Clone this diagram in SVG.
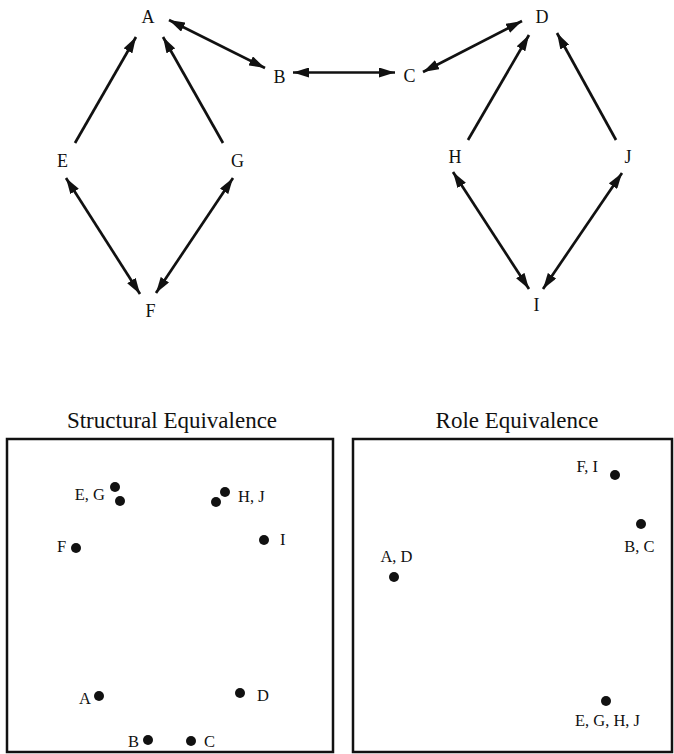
<svg xmlns="http://www.w3.org/2000/svg" width="674" height="754" viewBox="0 0 674 754">
<style>
.lbl{font-family:"Liberation Serif","Times New Roman",serif;font-size:18px;fill:#111;text-anchor:middle}
.dl{font-family:"Liberation Serif","Times New Roman",serif;font-size:16.5px;fill:#111}
.ttl{font-family:"Liberation Serif","Times New Roman",serif;font-size:23px;fill:#111;text-anchor:middle}
.e{stroke:#111;stroke-width:2.7;fill:none}
.box{stroke:#111;stroke-width:2.5;fill:none}
.dot{fill:#111}
</style>
<defs>
<marker id="ah" viewBox="0 0 16 10" refX="16" refY="5" markerWidth="16" markerHeight="10" markerUnits="userSpaceOnUse" orient="auto-start-reverse">
<path d="M0,0 L16,5 L0,10 z" fill="#111"/>
</marker>
</defs>
<g id="connectors">
<line class="e" x1="169" y1="20" x2="265" y2="68" marker-start="url(#ah)" marker-end="url(#ah)"/>
<line class="e" x1="293" y1="72.5" x2="395" y2="72.5" marker-start="url(#ah)" marker-end="url(#ah)"/>
<line class="e" x1="423" y1="72" x2="522" y2="21" marker-start="url(#ah)" marker-end="url(#ah)"/>
<line class="e" x1="75" y1="143" x2="136" y2="37" marker-end="url(#ah)"/>
<line class="e" x1="223" y1="143" x2="163" y2="37" marker-end="url(#ah)"/>
<line class="e" x1="468" y1="140" x2="529" y2="35" marker-end="url(#ah)"/>
<line class="e" x1="616" y1="140" x2="557" y2="33" marker-end="url(#ah)"/>
<line class="e" x1="66" y1="178" x2="140" y2="294" marker-start="url(#ah)" marker-end="url(#ah)"/>
<line class="e" x1="233" y1="178" x2="156" y2="293" marker-start="url(#ah)" marker-end="url(#ah)"/>
<line class="e" x1="453" y1="172" x2="529" y2="289" marker-start="url(#ah)" marker-end="url(#ah)"/>
<line class="e" x1="622" y1="173" x2="543" y2="289" marker-start="url(#ah)" marker-end="url(#ah)"/>
</g>
<g id="node-A"><text class="lbl" x="148" y="23">A</text></g>
<g id="node-B"><text class="lbl" x="279.5" y="83">B</text></g>
<g id="node-C"><text class="lbl" x="409.5" y="82">C</text></g>
<g id="node-D"><text class="lbl" x="542" y="23">D</text></g>
<g id="node-E"><text class="lbl" x="62.5" y="167">E</text></g>
<g id="node-G"><text class="lbl" x="237.5" y="167">G</text></g>
<g id="node-F"><text class="lbl" x="150.5" y="317">F</text></g>
<g id="node-H"><text class="lbl" x="455" y="163">H</text></g>
<g id="node-J"><text class="lbl" x="628" y="163">J</text></g>
<g id="node-I"><text class="lbl" x="536.5" y="311">I</text></g>

<g id="structural-equivalence">
<text class="ttl" x="172" y="428">Structural Equivalence</text>
<rect class="box" x="7" y="439" width="326" height="313"/>
<circle class="dot" cx="115" cy="487" r="5"/>
<circle class="dot" cx="120" cy="501" r="5"/>
<text class="dl" x="105" y="500" text-anchor="end">E, G</text>
<circle class="dot" cx="225" cy="492" r="5"/>
<circle class="dot" cx="216" cy="502" r="5"/>
<text class="dl" x="238" y="502">H, J</text>
<circle class="dot" cx="264" cy="540" r="5"/>
<text class="dl" x="280" y="545">I</text>
<circle class="dot" cx="76" cy="548" r="5"/>
<text class="dl" x="57" y="552">F</text>
<circle class="dot" cx="99" cy="696" r="5"/>
<text class="dl" x="79" y="704">A</text>
<circle class="dot" cx="240" cy="693" r="5"/>
<text class="dl" x="257" y="701">D</text>
<circle class="dot" cx="148" cy="740" r="5"/>
<text class="dl" x="128" y="747">B</text>
<circle class="dot" cx="191" cy="741" r="5"/>
<text class="dl" x="204" y="747">C</text>
</g>

<g id="role-equivalence">
<text class="ttl" x="517" y="428">Role Equivalence</text>
<rect class="box" x="353" y="439" width="319" height="313"/>
<circle class="dot" cx="615" cy="475" r="5"/>
<text class="dl" x="598" y="472" text-anchor="end">F, I</text>
<circle class="dot" cx="641" cy="524" r="5"/>
<text class="dl" x="639.5" y="552" text-anchor="middle">B, C</text>
<circle class="dot" cx="394" cy="577" r="5"/>
<text class="dl" x="396.5" y="562" text-anchor="middle">A, D</text>
<circle class="dot" cx="606" cy="701" r="5"/>
<text class="dl" x="607.5" y="726" text-anchor="middle">E, G, H, J</text>
</g>
</svg>
